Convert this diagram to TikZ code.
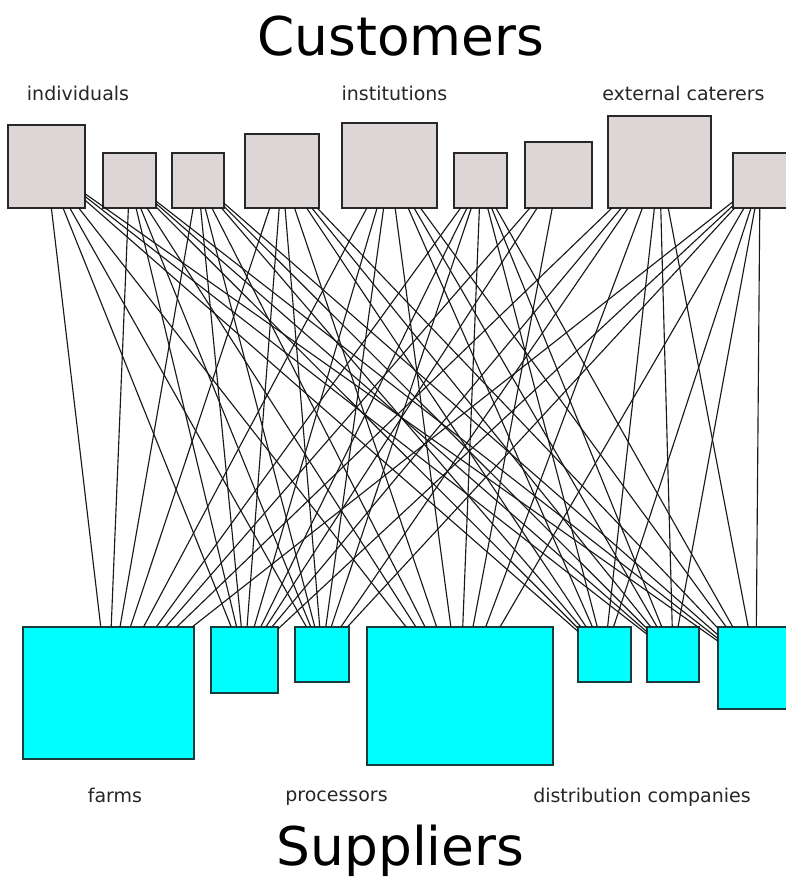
\documentclass[tikz,border=0pt]{standalone}
\usepackage{fontspec}
\setmainfont{DejaVu Sans}
\definecolor{custfill}{RGB}{221,214,214}
\definecolor{custline}{RGB}{40,40,40}
\definecolor{supfill}{RGB}{0,255,255}
\definecolor{supline}{RGB}{25,60,60}
% box from its corners (x1,y1)-(x2,y2), in pixel-like units
\newcommand\placebox[6]{%
  \node[#1, minimum width={(#5-#3)*0.75pt}, minimum height={(#6-#4)*0.75pt}]
    (#2) at ({(#3+#5)/2},{(#4+#6)/2}) {};}
\begin{document}
\begin{tikzpicture}[x=0.75pt,y=-0.75pt,
  custbox/.style={draw=custline,fill=custfill,line width=1.5pt,inner sep=0pt,outer sep=0pt},
  supbox/.style={draw=supline,fill=supfill,line width=1.5pt,inner sep=0pt,outer sep=0pt},
  link/.style={draw=black!90,line width=0.85pt},
  heading/.style={font=\fontsize{40}{48}\selectfont,anchor=base,inner sep=0pt,text=black},
  grouplabel/.style={font=\fontsize{14.25}{17}\selectfont,anchor=base,inner sep=0pt,text=black!85}]
\useasboundingbox (0,0) rectangle (786,879);
\fill[white] (0,0) rectangle (786,879);
\clip (0,0) rectangle (786,879);

% customers
\placebox{custbox}{c1}{8}{125}{85}{208}
\placebox{custbox}{c2}{103}{153}{156}{208}
\placebox{custbox}{c3}{172}{153}{224}{208}
\placebox{custbox}{c4}{245}{134}{319}{208}
\placebox{custbox}{c5}{342}{123}{437}{208}
\placebox{custbox}{c6}{454}{153}{507}{208}
\placebox{custbox}{c7}{525}{142}{592}{208}
\placebox{custbox}{c8}{608}{116}{711}{208}
\placebox{custbox}{c9}{733}{153}{787}{208}

% suppliers
\placebox{supbox}{s1}{23}{627}{194}{759}
\placebox{supbox}{s2}{211}{627}{278}{693}
\placebox{supbox}{s3}{295}{627}{349}{682}
\placebox{supbox}{s4}{367}{627}{553}{765}
\placebox{supbox}{s5}{578}{627}{631}{682}
\placebox{supbox}{s6}{647}{627}{699}{682}
\placebox{supbox}{s7}{718}{627}{794}{709}

% trade links
\foreach \c in {1,2,3,4,5,6,8,9}
  \foreach \s in {1,...,7}
    \draw[link] (c\c) -- (s\s);
\foreach \s in {1,2,4}
  \draw[link] (c7) -- (s\s);

% headings and group labels
\node[heading] (custtitle) at (401,55) {Customers};
\node[heading] (suptitle) at (400.5,865) {Suppliers};
\node[grouplabel] (lindiv) at (78,100) {individuals};
\node[grouplabel] (linst) at (394.5,100) {institutions};
\node[grouplabel] (lcater) at (683.5,100) {external caterers};
\node[grouplabel] (lfarms) at (115,802) {farms};
\node[grouplabel] (lproc) at (336.5,801) {processors};
\node[grouplabel] (ldist) at (642,802) {distribution companies};
\end{tikzpicture}
\end{document}
